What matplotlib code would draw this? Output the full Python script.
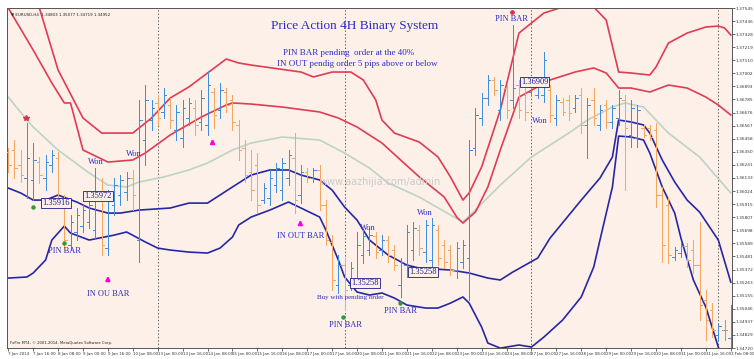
import numpy as np
import matplotlib.pyplot as plt

# EURUSD H4 bars, 7 Jan 2014 .. 3 Feb 2014
bar_open = [1.36348, 1.36365, 1.36240, 1.36132, 1.36116, 1.36265, 1.36132, 1.36240, 1.36298, 1.35949,
            1.35575, 1.35684, 1.35733, 1.35766, 1.35700, 1.35991, 1.35550, 1.35908, 1.35991, 1.36016,
            1.36132, 1.35617, 1.36448, 1.36614, 1.36756, 1.36681, 1.36739, 1.36531, 1.36465, 1.36631,
            1.36714, 1.36598, 1.36573, 1.36847, 1.36697, 1.36847, 1.36781, 1.36573, 1.36382, 1.36182,
            1.36240, 1.35949, 1.35966, 1.36074, 1.36032, 1.36132, 1.36298, 1.35991, 1.36182, 1.36132,
            1.36199, 1.35908, 1.35601, 1.35243, 1.35409, 1.35243, 1.35301, 1.35492, 1.35534, 1.35650,
            1.35534, 1.35617, 1.35534, 1.35243, 1.35409, 1.35534, 1.35700, 1.35517, 1.35451, 1.35700,
            1.35575, 1.35534, 1.35368, 1.35434, 1.35467, 1.36382, 1.36631, 1.36797, 1.36947, 1.36697,
            1.36880, 1.36781, 1.36905, 1.36822, 1.36847, 1.36822, 1.36822, 1.36864, 1.36631, 1.36764,
            1.36781, 1.36714, 1.36822, 1.36573, 1.36781, 1.36573, 1.36739, 1.36598, 1.36631, 1.36781,
            1.36490, 1.36465, 1.36548, 1.36548, 1.36531, 1.35991, 1.35908, 1.35476, 1.35509, 1.35567,
            1.35534, 1.35409, 1.35118, 1.35035, 1.34828, 1.34869, 1.34803]
bar_high = [1.36382, 1.36448, 1.36365, 1.36589, 1.36423, 1.36307, 1.36323, 1.36365, 1.36348, 1.35991,
            1.35825, 1.35883, 1.35908, 1.35949, 1.36215, 1.36132, 1.36032, 1.36132, 1.36157, 1.36182,
            1.36199, 1.36781, 1.36905, 1.36781, 1.36822, 1.36880, 1.36797, 1.36739, 1.36781, 1.36797,
            1.36781, 1.36864, 1.37013, 1.36880, 1.36922, 1.36880, 1.36822, 1.36614, 1.36448, 1.36365,
            1.36340, 1.36091, 1.36199, 1.36257, 1.36298, 1.36365, 1.36506, 1.36240, 1.36215, 1.36215,
            1.36240, 1.35949, 1.35658, 1.35492, 1.35467, 1.35434, 1.35684, 1.35700, 1.35717, 1.35684,
            1.35658, 1.35650, 1.35575, 1.35467, 1.35742, 1.35766, 1.35742, 1.35783, 1.35800, 1.35742,
            1.35617, 1.35575, 1.35601, 1.35617, 1.36448, 1.36714, 1.36839, 1.36988, 1.36972, 1.36947,
            1.36905, 1.37404, 1.36947, 1.36880, 1.36930, 1.36922, 1.37179, 1.36905, 1.36822, 1.36797,
            1.36822, 1.36822, 1.36880, 1.36797, 1.36880, 1.36739, 1.36781, 1.36739, 1.36864, 1.36822,
            1.36781, 1.36739, 1.36573, 1.36573, 1.36589, 1.36058, 1.35974, 1.35559, 1.35592, 1.35592,
            1.35617, 1.35766, 1.35202, 1.35093, 1.34927, 1.34952, 1.35077]
bar_low = [1.36182, 1.36132, 1.36099, 1.35966, 1.35949, 1.36091, 1.36032, 1.36182, 1.35908, 1.35534,
           1.35534, 1.35617, 1.35684, 1.35717, 1.35634, 1.35492, 1.35492, 1.35825, 1.35908, 1.35949,
           1.35866, 1.35434, 1.36240, 1.36531, 1.36573, 1.36631, 1.36548, 1.36448, 1.36390, 1.36573,
           1.36490, 1.36531, 1.36490, 1.36548, 1.36631, 1.36681, 1.36531, 1.36282, 1.36099, 1.35949,
           1.35841, 1.35924, 1.35908, 1.36016, 1.35949, 1.36074, 1.35841, 1.35924, 1.36099, 1.36099,
           1.35866, 1.35575, 1.35202, 1.35177, 1.35035, 1.35202, 1.35268, 1.35426, 1.35492, 1.35467,
           1.35492, 1.35434, 1.35368, 1.35144, 1.35310, 1.35451, 1.35492, 1.35434, 1.35384, 1.35409,
           1.35384, 1.35326, 1.35301, 1.35384, 1.35118, 1.36323, 1.36573, 1.36739, 1.36822, 1.36614,
           1.36631, 1.36714, 1.36631, 1.36614, 1.36822, 1.36797, 1.36764, 1.36598, 1.36573, 1.36656,
           1.36614, 1.36681, 1.36506, 1.36298, 1.36573, 1.36531, 1.36548, 1.36548, 1.36573, 1.36032,
           1.36390, 1.36390, 1.36473, 1.36448, 1.35891, 1.35434, 1.35426, 1.35451, 1.35476, 1.35393,
           1.35343, 1.34952, 1.34786, 1.34811, 1.34786, 1.34786, 1.34719]
bar_close = [1.36240, 1.36215, 1.36157, 1.36298, 1.36282, 1.36157, 1.36265, 1.36323, 1.35966, 1.35617,
             1.35766, 1.35825, 1.35866, 1.35908, 1.35991, 1.35575, 1.35949, 1.36074, 1.36116, 1.36132,
             1.35991, 1.36614, 1.36781, 1.36714, 1.36631, 1.36822, 1.36614, 1.36681, 1.36714, 1.36756,
             1.36573, 1.36797, 1.36905, 1.36656, 1.36864, 1.36739, 1.36598, 1.36365, 1.36157, 1.36032,
             1.35908, 1.36049, 1.36132, 1.36215, 1.36257, 1.36323, 1.35949, 1.36182, 1.36132, 1.36199,
             1.35908, 1.35617, 1.35285, 1.35409, 1.35202, 1.35384, 1.35575, 1.35650, 1.35658, 1.35517,
             1.35617, 1.35492, 1.35409, 1.35434, 1.35684, 1.35717, 1.35550, 1.35742, 1.35742, 1.35467,
             1.35434, 1.35368, 1.35550, 1.35575, 1.36365, 1.36656, 1.36797, 1.36947, 1.36864, 1.36905,
             1.36697, 1.36880, 1.36697, 1.36681, 1.36905, 1.36897, 1.37113, 1.36656, 1.36781, 1.36681,
             1.36672, 1.36797, 1.36573, 1.36739, 1.36631, 1.36697, 1.36598, 1.36714, 1.36797, 1.36548,
             1.36714, 1.36697, 1.36490, 1.36473, 1.35991, 1.35575, 1.35492, 1.35534, 1.35567, 1.35451,
             1.35409, 1.35077, 1.34952, 1.34869, 1.34902, 1.34869, 1.34952]

# band indicator (TMA style): bar index knots and price
red_outer_idx = [0, 5, 8, 12, 15, 20, 23, 26, 29, 32, 35, 37, 39, 47, 49, 52, 55, 57, 59, 60, 62, 66,
                 69, 71, 73, 74, 76, 79, 82, 86, 89, 94, 96, 98, 100, 103, 104, 106, 109, 112, 114, 115, 116]
red_outer = [1.38027, 1.37545, 1.37030, 1.36631, 1.36506, 1.36506, 1.36631, 1.36797, 1.36889, 1.37005,
             1.37121, 1.37088, 1.37071, 1.37013, 1.36972, 1.37013, 1.37013, 1.36947, 1.36781, 1.36614,
             1.36506, 1.36431, 1.36307, 1.36141, 1.35949, 1.36008, 1.36224, 1.36697, 1.37337, 1.37503,
             1.37553, 1.37553, 1.37445, 1.37013, 1.37005, 1.36988, 1.37055, 1.37254, 1.37337, 1.37387,
             1.37395, 1.37379, 1.37321]
red_inner_idx = [0, 4, 7, 9, 10, 12, 16, 20, 22, 26, 31, 35, 36, 39, 44, 50, 53, 56, 60, 63, 66, 70,
                 72, 73, 75, 77, 79, 82, 87, 91, 94, 96, 98, 100, 103, 106, 109, 112, 114, 116]
red_inner = [1.37545, 1.37196, 1.36922, 1.36756, 1.36756, 1.36365, 1.36265, 1.36282, 1.36340, 1.36490,
             1.36639, 1.36739, 1.36756, 1.36747, 1.36722, 1.36681, 1.36631, 1.36556, 1.36423, 1.36282,
             1.36141, 1.35974, 1.35808, 1.35758, 1.35849, 1.36058, 1.36365, 1.36805, 1.36947, 1.37013,
             1.37047, 1.37005, 1.36880, 1.36880, 1.36847, 1.36905, 1.36880, 1.36805, 1.36739, 1.36656]
mid_idx = [0, 3, 4, 8, 13, 16, 19, 21, 25, 29, 32, 36, 39, 44, 50, 54, 58, 61, 66, 71, 73, 75, 79, 84,
           90, 93, 97, 99, 102, 106, 111, 116]
mid_line = [1.36805, 1.36614, 1.36556, 1.36365, 1.36174, 1.36074, 1.36058, 1.36099, 1.36141, 1.36199,
            1.36257, 1.36365, 1.36423, 1.36473, 1.36448, 1.36340, 1.36215, 1.36091, 1.35974, 1.35825,
            1.35766, 1.35866, 1.36074, 1.36307, 1.36506, 1.36614, 1.36722, 1.36756, 1.36722, 1.36506,
            1.36307, 1.36008]
blue_inner_idx = [0, 2, 4, 6, 8, 11, 13, 16, 18, 21, 26, 29, 32, 36, 39, 42, 45, 47, 50, 52, 54, 56,
                  58, 61, 64, 66, 71, 74, 77, 79, 81, 83, 85, 87, 92, 95, 97, 98, 100, 102, 103, 105,
                  107, 109, 111, 114, 116]
blue_inner = [1.36049, 1.36008, 1.35949, 1.35949, 1.35991, 1.35933, 1.35883, 1.35841, 1.35841, 1.35866,
              1.35883, 1.35924, 1.35924, 1.36058, 1.36157, 1.36199, 1.36199, 1.36157, 1.36116, 1.36032,
              1.35891, 1.35783, 1.35617, 1.35492, 1.35409, 1.35384, 1.35368, 1.35343, 1.35301, 1.35285,
              1.35351, 1.35409, 1.35467, 1.35634, 1.35949, 1.36132, 1.36307, 1.36614, 1.36598, 1.36573,
              1.36506, 1.36282, 1.36099, 1.35949, 1.35849, 1.35617, 1.35268]
blue_outer_idx = [0, 3, 4, 6, 7, 9, 10, 13, 17, 19, 22, 24, 26, 29, 32, 34, 36, 37, 39, 42, 45, 47, 50,
                  51, 53, 54, 56, 58, 60, 62, 64, 67, 69, 71, 73, 74, 76, 77, 79, 82, 84, 86, 89, 92,
                  94, 95, 97, 98, 100, 102, 103, 105, 107, 108, 110, 112, 114, 115]
blue_outer = [1.35301, 1.35310, 1.35343, 1.35451, 1.35617, 1.35733, 1.35675, 1.35617, 1.35658, 1.35684,
              1.35601, 1.35550, 1.35534, 1.35517, 1.35509, 1.35550, 1.35642, 1.35742, 1.35808, 1.35866,
              1.35933, 1.35883, 1.35808, 1.35700, 1.35451, 1.35310, 1.35185, 1.35160, 1.35177, 1.35135,
              1.35077, 1.35052, 1.35052, 1.35093, 1.35144, 1.35093, 1.34894, 1.34761, 1.34719, 1.34745,
              1.34728, 1.34811, 1.34952, 1.35144, 1.35393, 1.35617, 1.36058, 1.36481, 1.36473, 1.36448,
              1.36340, 1.36058, 1.35841, 1.35634, 1.35285, 1.35060, 1.34728, 1.34578]

time_labels = ['7 Jan 2014', '7 Jan 16:00', '8 Jan 08:00', '9 Jan 00:00', '9 Jan 16:00',
               '10 Jan 08:00', '13 Jan 00:00', '13 Jan 16:00', '14 Jan 08:00', '15 Jan 00:00',
               '15 Jan 16:00', '16 Jan 08:00', '17 Jan 00:00', '17 Jan 16:00', '20 Jan 08:00',
               '21 Jan 00:00', '21 Jan 16:00', '22 Jan 08:00', '23 Jan 00:00', '23 Jan 16:00',
               '24 Jan 08:00', '27 Jan 00:00', '27 Jan 16:00', '28 Jan 08:00', '29 Jan 00:00',
               '29 Jan 16:00', '30 Jan 08:00', '31 Jan 00:00', '31 Jan 16:00', '3 Feb 08:00']
price_ticks = [1.37545, 1.37436, 1.37328, 1.37219, 1.37110, 1.37002, 1.36893, 1.36785, 1.36676,
               1.36567, 1.36458, 1.36350, 1.36241, 1.36133, 1.36024, 1.35915, 1.35807, 1.35698,
               1.35589, 1.35481, 1.35372, 1.35263, 1.35155, 1.35046, 1.34937, 1.34829, 1.34720]
week_starts = [24, 54, 84, 114]

BG = '#fdf0e8'
UP = '#3f8fe0'
DOWN = '#f5a660'
TXT = '#2c2cc4'
SERIF = ['Liberation Serif', 'DejaVu Serif']

fig = plt.figure(figsize=(7.54, 3.59), dpi=100)
fig.patch.set_facecolor('white')
ax = fig.add_axes([7 / 754, 11 / 359, 725 / 754, 340 / 359])
ax.set_facecolor(BG)

o = np.array(bar_open)
h = np.array(bar_high)
l = np.array(bar_low)
c = np.array(bar_close)
x = np.arange(len(o))
cols = [UP if cc > oo else (DOWN if cc < oo else '#9a9a9a') for oo, cc in zip(o, c)]

for w in week_starts:
    ax.axvline(w, color='#606060', ls=(0, (1.5, 2)), lw=0.7, zorder=1)

ax.plot(mid_idx, mid_line, color='#bdd3c4', lw=1.2, zorder=2)
ax.plot(red_outer_idx, red_outer, color='#e03b55', lw=1.2, zorder=2)
ax.plot(red_inner_idx, red_inner, color='#e03b55', lw=1.2, zorder=2)
ax.plot(blue_inner_idx, blue_inner, color='#2727a6', lw=1.2, zorder=2)
ax.plot(blue_outer_idx, blue_outer, color='#2727a6', lw=1.2, zorder=2)

# OHLC bars drawn crisp, like the terminal does
ax.vlines(x, l, h, colors=cols, lw=0.72, zorder=3, antialiased=False)
ax.hlines(o, x - 0.4, x, colors=cols, lw=0.72, zorder=3, antialiased=False)
ax.hlines(c, x, x + 0.4, colors=cols, lw=0.72, zorder=3, antialiased=False)

# signal markers
ax.plot([4, 9, 53.8, 62.9], [1.35891, 1.35592, 1.34977, 1.35093], 'o', color='#2e9a3a', ms=2.2, zorder=4)
ax.plot([80.8], [1.37512], 'o', color='#e0304a', ms=2.4, zorder=4)
ax.plot([2.9], [1.36631], '*', color='#e0304a', ms=4, zorder=4)
for ax_x, ax_y in [(16, 1.35293), (32.8, 1.36432), (46.9, 1.35758)]:
    ax.annotate('', xy=(ax_x, ax_y + 0.0005), xytext=(ax_x, ax_y - 0.0004),
                arrowprops=dict(arrowstyle='-|>', color='#ff00d0', lw=1.4, mutation_scale=6), zorder=4)

# labels
notes = [('Won', 14.1, 1.36265, 6), ('Won', 20.2, 1.36332, 6), ('PIN BAR', 9.1, 1.35526, 6),
         ('IN OU BAR', 16, 1.35168, 6), ('IN OUT BAR', 46.9, 1.35650, 6), ('Won', 57.8, 1.35717, 6),
         ('Won', 66.9, 1.35841, 6), ('PIN BAR', 54.1, 1.34911, 6), ('Buy with pending order', 54.9, 1.35143, 5),
         ('PIN BAR', 62.9, 1.35027, 6), ('PIN BAR', 80.8, 1.37454, 6), ('Won', 85.4, 1.36606, 6)]
for s, tx, ty, fs in notes:
    ax.text(tx, ty, s, color=TXT, fontsize=fs, family=SERIF, ha='center', va='center', zorder=5)

boxes = [('1.35916', 7.7, 1.35925), ('1.35972', 14.4, 1.35983), ('1.35258', 57.3, 1.35260),
         ('1.35258', 66.6, 1.35351), ('1.36909', 84.5, 1.36930)]
for s, tx, ty in boxes:
    ax.text(tx, ty, s, color='#1a1a8c', fontsize=6, family=SERIF, ha='center', va='center', zorder=6,
            bbox=dict(boxstyle='square,pad=0.15', fc=BG, ec='#1a1a8c', lw=0.6))

ax.text(0.48, 0.947, 'Price Action 4H Binary System', transform=ax.transAxes, color=TXT,
        fontsize=9.5, family=SERIF, ha='center', va='center')
ax.text(0.471, 0.868, 'PIN BAR pending  order at the 40%', transform=ax.transAxes, color=TXT,
        fontsize=6.5, family=SERIF, ha='center', va='center')
ax.text(0.483, 0.836, 'IN OUT pendig order 5 pips above or below', transform=ax.transAxes, color=TXT,
        fontsize=6.5, family=SERIF, ha='center', va='center')
ax.text(59.7, 1.36099, 'www.aazhijia.com/admin', color='#cacaca', fontsize=7, ha='center', va='center',
        zorder=5)
ax.text(0.006, 0.988, '\u25bc EURUSD,H4  1.34803 1.35077 1.34719 1.34952', transform=ax.transAxes,
        fontsize=2.9, color='#222222', ha='left', va='top')
ax.text(0.004, 0.008, 'FxPro MT4, \u00a9 2001-2014, MetaQuotes Software Corp.', transform=ax.transAxes,
        fontsize=2.7, color='#222222', ha='left', va='bottom')

ax.set_xlim(-0.2, 116.2)
ax.set_ylim(price_ticks[-1], price_ticks[0])
ax.yaxis.tick_right()
ax.set_yticks(price_ticks)
ax.set_yticklabels([f'{p:.5f}' for p in price_ticks])
ax.set_xticks(np.arange(0, 4 * len(time_labels), 4))
ax.set_xticklabels(time_labels)
for lab in ax.get_xticklabels():
    lab.set_horizontalalignment('left')
ax.tick_params(axis='x', labelsize=2.9, colors='#333333', length=2, width=0.5, pad=1)
ax.tick_params(axis='y', labelsize=3.1, colors='#333333', length=2, width=0.5, pad=0.8)
for sp in ax.spines.values():
    sp.set_color('#555555')
    sp.set_linewidth(0.7)

fig.savefig('out.png', dpi=100, facecolor='white')
